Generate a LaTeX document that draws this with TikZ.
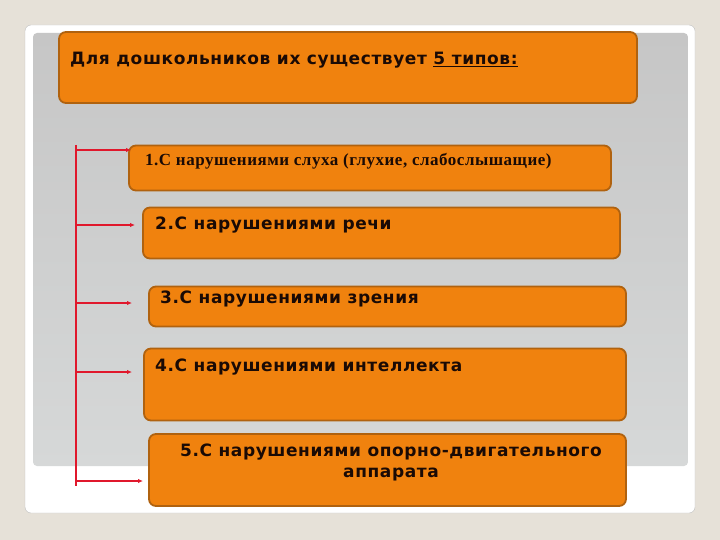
\documentclass[tikz,border=0pt]{standalone}
\usepackage{fontspec}
\setmainfont{DejaVu Sans}
\newfontfamily\serifbf{Liberation Serif}
\usetikzlibrary{arrows.meta}
\definecolor{bgbeige}{HTML}{E6E1D8}
\definecolor{panelA}{HTML}{C6C6C6}
\definecolor{panelB}{HTML}{D6D8D8}
\definecolor{boxfill}{HTML}{F0820E}
\definecolor{boxline}{HTML}{B0620F}
\definecolor{redline}{HTML}{E0182C}
\definecolor{txt}{HTML}{1A0A05}
\tikzset{
  obox/.style={draw=boxline, line width=1.8pt, fill=boxfill, rounded corners=7pt, inner sep=0pt},
  otext/.style={anchor=north west, inner sep=0pt, text=txt, font=\bfseries\fontsize{17}{21}\selectfont\addfontfeature{LetterSpace=3.5}},
  conn/.style={draw=redline, line width=1.3pt},
  carrow/.style={conn, -{Latex[length=5pt,width=4.5pt]}}
}
\begin{document}
\begin{tikzpicture}[x=1pt,y=-1pt]
\useasboundingbox (0,0) rectangle (720,540);
\fill[bgbeige] (0,0) rectangle (720,540);
% card
\draw[draw=black!25, fill=white, rounded corners=6pt] (25,25) rectangle (695,513);
\shade[top color=panelA, bottom color=panelB, rounded corners=4pt] (33,33) rectangle (688,466);
% boxes
\node[obox, minimum width=578pt, minimum height=71pt] (b0) at (348,67.5) {};
\node[obox, minimum width=482pt, minimum height=45pt] (b1) at (370,168) {};
\node[obox, minimum width=477pt, minimum height=51pt] (b2) at (381.5,233) {};
\node[obox, minimum width=477pt, minimum height=40pt] (b3) at (387.5,306.5) {};
\node[obox, minimum width=482pt, minimum height=72pt] (b4) at (385,384.5) {};
\node[obox, minimum width=477pt, minimum height=72pt] (b5) at (387.5,470) {};
% texts
\node[otext] (t0) at (70,52) {Для дошкольников их существует \underline{5 типов:}};
\node[otext, font=\serifbf\bfseries\fontsize{17}{19}\selectfont\addfontfeature{LetterSpace=3}] (t1) at (145,153) {1.С нарушениями слуха (глухие, слабослышащие)};
\node[otext] (t2) at (155,216.5) {2.С нарушениями речи};
\node[otext] (t3) at (160,290.5) {3.С нарушениями зрения};
\node[otext] (t4) at (155,358.5) {4.С нарушениями интеллекта};
\node[otext, anchor=north, align=center] (t5) at (391,443.5) {5.С нарушениями опорно-двигательного\\аппарата};
% connectors
\coordinate (top) at (76,145);
\coordinate (bot) at (76,486);
\coordinate (s1) at (76,150);
\coordinate (s2) at (76,225);
\coordinate (s3) at (76,303);
\coordinate (s4) at (76,372);
\coordinate (s5) at (76,481);
\coordinate (e1) at (131,150);
\coordinate (e2) at (135,225);
\coordinate (e3) at (132,303);
\coordinate (e4) at (132,372);
\coordinate (e5) at (143,481);
\draw[conn] (top) -- (bot);
\draw[carrow] (s1) -- (e1);
\draw[carrow] (s2) -- (e2);
\draw[carrow] (s3) -- (e3);
\draw[carrow] (s4) -- (e4);
\draw[carrow] (s5) -- (e5);
\end{tikzpicture}
\end{document}
